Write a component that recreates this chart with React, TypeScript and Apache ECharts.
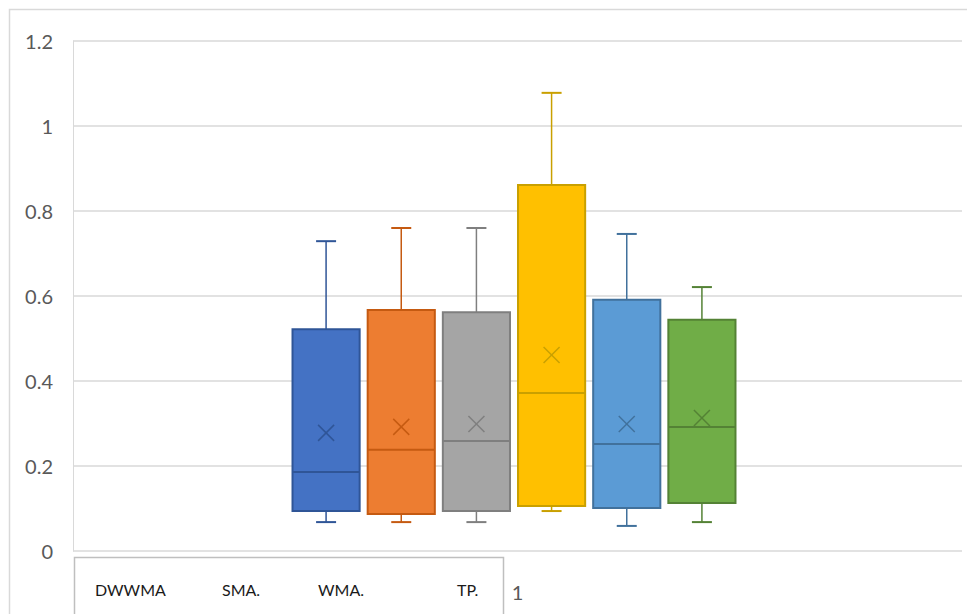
import React, { useEffect, useRef } from "react";
import * as echarts from "echarts";

// ---- data ----
const categoryLabels = ["1"];
const boxIds = ["B1", "B2", "B3", "B4", "B5", "B6"];
const legendNames = ["DWWMA", "SMA.", "WMA.", "TP."];
const boxMin = [0.068, 0.068, 0.068, 0.094, 0.059, 0.068];
const boxQ1 = [0.094, 0.087, 0.094, 0.106, 0.101, 0.113];
const boxMedian = [0.186, 0.238, 0.259, 0.372, 0.252, 0.292];
const boxQ3 = [0.522, 0.567, 0.562, 0.861, 0.591, 0.544];
const boxMax = [0.729, 0.760, 0.760, 1.078, 0.746, 0.621];
const boxMean = [0.278, 0.292, 0.299, 0.461, 0.299, 0.313];
const yTicks = [0, 0.2, 0.4, 0.6, 0.8, 1, 1.2];

// ---- styles ----
const fillColors = ["#4472C4", "#ED7D31", "#A5A5A5", "#FFC000", "#5B9BD5", "#70AD47"];
const strokeColors = ["#2F5597", "#C55A11", "#7F7F7F", "#C9A000", "#41719C", "#548235"];
const legendX = [95, 222, 318, 457];
const FONT = "Lato, 'Liberation Sans', sans-serif";

export default function App() {
  const ref = useRef<HTMLDivElement>(null);
  useEffect(() => {
    if (!ref.current) return;
    const chart = echarts.init(ref.current, undefined, { renderer: "svg" });
    const customData = boxIds.map((_, i) => [i, boxMin[i], boxQ1[i], boxMedian[i], boxQ3[i], boxMax[i], boxMean[i]]);
    const gridTop = 41;
    const gridBottom = 63;
    const option: any = {
      animation: false,
      backgroundColor: "#ffffff",
      grid: [
        { left: 73, right: 5, top: gridTop, bottom: gridBottom },
        { left: 288.5, width: 451, top: gridTop, bottom: gridBottom },
      ],
      xAxis: [
        {
          type: "category",
          gridIndex: 0,
          data: categoryLabels,
          axisLine: { show: false },
          axisTick: { show: false },
          axisLabel: { margin: 31, fontSize: 20, color: "#595959", fontFamily: FONT },
        },
        {
          type: "category",
          gridIndex: 1,
          data: boxIds,
          show: false,
        },
      ],
      yAxis: [
        {
          type: "value",
          gridIndex: 0,
          min: 0,
          max: yTicks[yTicks.length - 1],
          interval: 0.2,
          axisLine: { show: true, lineStyle: { color: "#D9D9D9", width: 1 } },
          axisTick: { show: false },
          axisLabel: {
            margin: 20,
            fontSize: 20,
            color: "#595959",
            fontFamily: FONT,
            formatter: (v: number) => String(Math.round(v * 10) / 10),
          },
          splitLine: { show: true, lineStyle: { color: "#D9D9D9", width: 1.5 } },
        },
        {
          type: "value",
          gridIndex: 1,
          min: 0,
          max: yTicks[yTicks.length - 1],
          interval: 0.2,
          show: false,
          splitLine: { show: false },
        },
      ],
      series: [
        {
          type: "custom",
          xAxisIndex: 1,
          yAxisIndex: 1,
          data: customData,
          encode: { x: 0, y: [1, 2, 3, 4, 5, 6] },
          renderItem: (params: any, api: any) => {
            const idx = api.value(0);
            const cx = api.coord([idx, 0])[0];
            const yMin = api.coord([idx, api.value(1)])[1];
            const yQ1 = api.coord([idx, api.value(2)])[1];
            const yMed = api.coord([idx, api.value(3)])[1];
            const yQ3 = api.coord([idx, api.value(4)])[1];
            const yMax = api.coord([idx, api.value(5)])[1];
            const yMean = api.coord([idx, api.value(6)])[1];
            const band = api.size([1, 0])[0];
            const bw = band * (67 / 75);
            const cap = 10;
            const xs = 8;
            const fill = fillColors[idx];
            const stroke = strokeColors[idx];
            const lineStyle = { stroke, lineWidth: 1.5, fill: null };
            return {
              type: "group",
              children: [
                { type: "line", shape: { x1: cx, y1: yQ3, x2: cx, y2: yMax }, style: lineStyle },
                { type: "line", shape: { x1: cx, y1: yQ1, x2: cx, y2: yMin }, style: lineStyle },
                { type: "line", shape: { x1: cx - cap, y1: yMax, x2: cx + cap, y2: yMax }, style: { ...lineStyle, lineWidth: 2 } },
                { type: "line", shape: { x1: cx - cap, y1: yMin, x2: cx + cap, y2: yMin }, style: { ...lineStyle, lineWidth: 2 } },
                {
                  type: "rect",
                  shape: { x: cx - bw / 2, y: yQ3, width: bw, height: yQ1 - yQ3 },
                  style: { fill, stroke, lineWidth: 2 },
                },
                { type: "line", shape: { x1: cx - bw / 2, y1: yMed, x2: cx + bw / 2, y2: yMed }, style: { ...lineStyle, lineWidth: 2 } },
                { type: "line", shape: { x1: cx - xs, y1: yMean - xs, x2: cx + xs, y2: yMean + xs }, style: lineStyle },
                { type: "line", shape: { x1: cx - xs, y1: yMean + xs, x2: cx + xs, y2: yMean - xs }, style: lineStyle },
              ],
            };
          },
        },
      ],
      graphic: [
        {
          type: "rect",
          silent: true,
          shape: { x: 9.5, y: 9.5, width: 1000, height: 700 },
          style: { fill: "none", stroke: "#D9D9D9", lineWidth: 1.5 },
        },
        {
          type: "rect",
          silent: true,
          shape: { x: 74.5, y: 557.5, width: 429, height: 100 },
          style: { fill: "none", stroke: "#BFBFBF", lineWidth: 1.5 },
        },
        ...legendNames.map((name, i) => ({
          type: "text",
          silent: true,
          x: legendX[i],
          y: 589,
          style: {
            text: name,
            fill: "#1a1a1a",
            fontSize: 16,
            fontWeight: "normal",
            fontFamily: FONT,
            verticalAlign: "middle",
          },
        })),
      ],
    };
    chart.setOption(option);
    return () => chart.dispose();
  }, []);
  return (
    <div
      ref={ref}
      style={{ position: "fixed", left: 0, top: 0, width: 967, height: 614, background: "#fff" }}
    />
  );
}
